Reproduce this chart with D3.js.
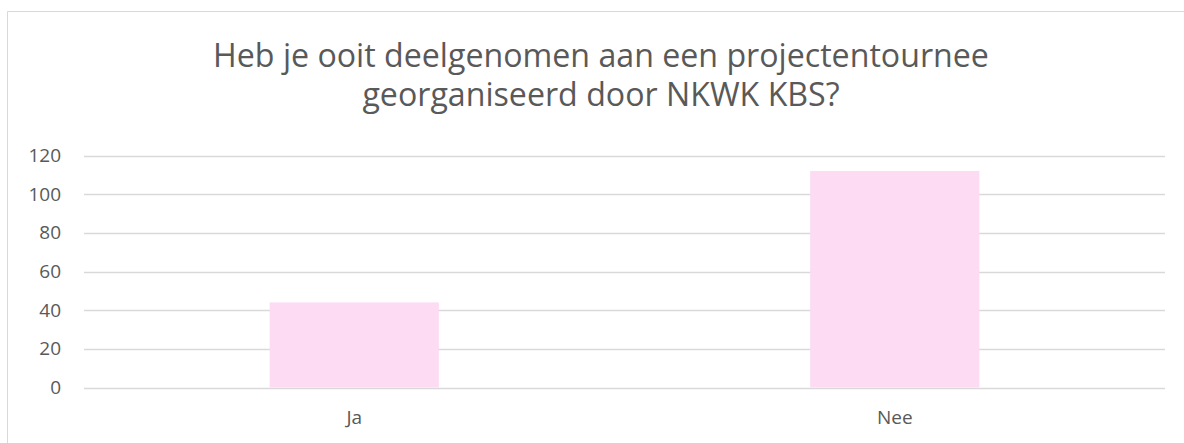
<!DOCTYPE html>
<html>
<head>
<style>
  body { margin: 0; background: #fff; }
  text { font-family: "Open Sans", "Liberation Sans", sans-serif; fill: #595959; }
</style>
</head>
<body>
<svg width="1184" height="443"></svg>
<script src="https://cdn.jsdelivr.net/npm/d3@7"></script>
<script>
var categories = ["Ja", "Nee"];
var values = [44, 112];
var yTicks = [0, 20, 40, 60, 80, 100, 120];
var titleLines = ["Heb je ooit deelgenomen aan een projectentournee", "georganiseerd door NKWK KBS?"];

var svg = d3.select("svg"),
    margin = {top: 155, right: 19, bottom: 56, left: 84},
    width = +svg.attr("width") - margin.left - margin.right,
    height = +svg.attr("height") - margin.top - margin.bottom;

// chart frame (only top and left edges show in the crop)
svg.append("path")
  .attr("d", "M7.5,443 V11.5 H1184")
  .attr("fill", "none")
  .attr("stroke", "#d9d9d9")
  .attr("stroke-width", 1);

var g = svg.append("g").attr("transform", "translate(" + margin.left + "," + margin.top + ")");

var x = d3.scaleBand()
  .domain(categories)
  .range([0, width])
  .paddingInner(0.687)
  .paddingOuter(0.3435);

var y = d3.scaleLinear()
  .domain([0, 120])
  .range([height + 0.5, 0.5]);

// gridlines
g.append("g")
  .selectAll("line")
  .data(yTicks)
  .enter().append("line")
    .attr("x1", 0)
    .attr("x2", width)
    .attr("y1", function(d) { return Math.round(y(d)) + 0.5; })
    .attr("y2", function(d) { return Math.round(y(d)) + 0.5; })
    .attr("stroke", "#d9d9d9")
    .attr("stroke-width", 1.3);

// bars
g.append("g")
  .selectAll("rect")
  .data(values)
  .enter().append("rect")
    .attr("x", function(d, i) { return x(categories[i]); })
    .attr("y", function(d) { return y(d); })
    .attr("width", x.bandwidth())
    .attr("height", function(d) { return y(0) - y(d); })
    .attr("fill", "#fcdbf3");

// y axis labels
var yAxis = d3.axisLeft(y).tickValues(yTicks).tickSize(0).tickPadding(23);
g.append("g")
  .call(yAxis)
  .call(function(a) { a.select(".domain").remove(); })
  .selectAll("text")
    .style("font-size", "19px")
    .attr("fill", "#595959");

// x axis labels
var xAxis = d3.axisBottom(x).tickSize(0).tickPadding(24);
g.append("g")
  .attr("transform", "translate(0," + height + ")")
  .call(xAxis)
  .call(function(a) { a.select(".domain").remove(); })
  .selectAll("text")
    .style("font-size", "19px")
    .attr("fill", "#595959");

// title, two separate lines
var titles = svg.selectAll(".title")
  .data(titleLines)
  .enter().append("text")
    .attr("class", "title")
    .attr("text-anchor", "middle")
    .attr("x", 601)
    .attr("y", function(d, i) { return 66.5 + i * 39; })
    .style("font-size", "28px")
    .text(function(d) { return d; });
// fit first line to the reference width (~776px)
var w = titles.node().getComputedTextLength();
titles.style("font-size", (28 * 776 / w) + "px");
</script>
</body>
</html>
